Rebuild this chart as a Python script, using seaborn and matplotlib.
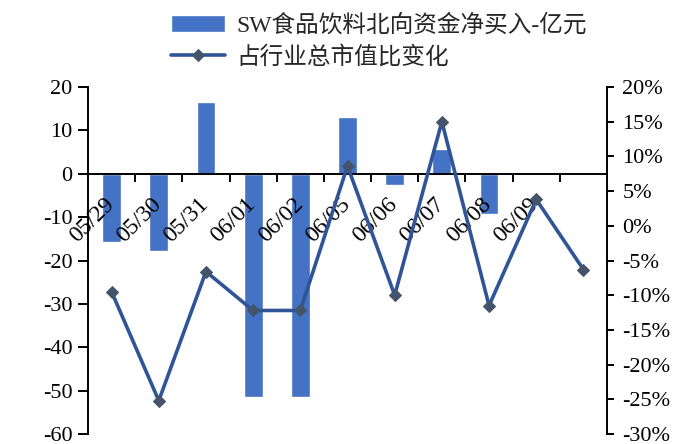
import numpy as np
import pandas as pd
import matplotlib
matplotlib.use("Agg")
import matplotlib.pyplot as plt
from matplotlib.ticker import FuncFormatter, FixedLocator
from matplotlib.transforms import ScaledTranslation
import seaborn as sns

# Trading days (last session carries no date label)
dates = ["05/29", "05/30", "05/31", "06/01", "06/02", "06/05",
         "06/06", "06/07", "06/08", "06/09", ""]
# Northbound net buying of SW Food & Beverage, 100 million yuan
net_buy = [-15.7, -17.8, 16.5, -51.4, -51.4, 13.0, -2.7, 5.6, -9.2, 0.0, 0.0]
# Change in share of industry total market value, %
share_change = [-9.5, -25.2, -6.6, -12.2, -12.2, 8.6, -10.0, 15.0, -11.5, 3.8, -6.3]

bar_label = "SW食品饮料北向资金净买入-亿元"
line_label = "占行业总市值比变化"

sns.set_theme(style="white")
plt.rcParams["font.family"] = ["Liberation Serif", "Noto Sans CJK SC", "DejaVu Sans"]
plt.rcParams["axes.unicode_minus"] = False

df = pd.DataFrame({"date": dates, "net_buy": net_buy,
                   "pos": np.arange(len(dates)), "share": share_change})

fig = plt.figure(figsize=(6.96, 4.44), dpi=100)
ax = fig.add_axes([88 / 696, 1 - 434 / 444, (607 - 88) / 696, (434 - 87) / 444])

bar_color = "#4472C4"
line_color = "#2F5597"
marker_color = "#44546A"

sns.barplot(data=df, x="pos", y="net_buy", color=bar_color, width=0.4,
            saturation=1, native_scale=True, ax=ax, errorbar=None)
ax.set_axisbelow(False)
ax.set_xlim(-0.5, len(dates) - 0.5)
ax.set_ylim(-60, 20)
ax.set_yticks(np.arange(-60, 21, 10))
ax.yaxis.set_major_formatter(FuncFormatter(lambda v, p: f"{v:.0f}"))
ax.set_xlabel("")
ax.set_ylabel("")

# category axis sits on the zero line, ticks at category boundaries
ax.spines["bottom"].set_position(("data", 0))
ax.spines["top"].set_visible(False)
ax.spines["right"].set_visible(False)
for s in ("left", "bottom"):
    ax.spines[s].set_color("black")
ax.spines["left"].set_linewidth(1.4)
ax.spines["bottom"].set_linewidth(1.4)
ax.xaxis.set_major_locator(FixedLocator(np.arange(0.5, len(dates) - 0.5, 1)))
ax.xaxis.set_ticklabels([])
ax.tick_params(axis="x", which="major", direction="out", length=6, width=1.4,
               color="black", bottom=True)
ax.tick_params(axis="y", direction="out", length=7, width=1.4, color="black",
               left=True, labelsize=16, labelcolor="black", pad=4)

# date labels hang below the zero line, slanted at 45 degrees
label_offset = ScaledTranslation(-8 / 100, -20 / 100, fig.dpi_scale_trans)
for i, d in enumerate(dates):
    ax.text(i, 0, d, transform=ax.transData + label_offset, rotation=45,
            ha="right", va="top", rotation_mode="anchor", fontsize=17,
            color="black", zorder=3)

ax2 = ax.twinx()
sns.lineplot(data=df, x="pos", y="share", ax=ax2, color=line_color, linewidth=2.6,
             marker="D", markersize=6, markerfacecolor=marker_color,
             markeredgecolor=marker_color, sort=False)
ax2.set_ylim(-30, 20)
ax2.set_yticks(np.arange(-30, 21, 5))
ax2.yaxis.set_major_formatter(FuncFormatter(lambda v, p: f"{v:.0f}%"))
ax2.set_xlabel("")
ax2.set_ylabel("")
for s in ("top", "left", "bottom"):
    ax2.spines[s].set_visible(False)
ax2.spines["right"].set_color("black")
ax2.spines["right"].set_linewidth(1.4)
ax2.tick_params(axis="y", direction="out", length=5, width=1.4, color="black",
                right=True, labelsize=16, labelcolor="black", pad=6)
ax2.set_xlim(-0.5, len(dates) - 0.5)

handles = [ax.containers[0], ax2.lines[0]]
fig.legend(handles, [bar_label, line_label], loc="upper left",
           bbox_to_anchor=(171 / 696, 1 - 14 / 444), frameon=False,
           fontsize=17, handlelength=2.3, handletextpad=0.45,
           labelspacing=0.38, borderaxespad=0, borderpad=0)

fig.savefig("out.png", dpi=100)
